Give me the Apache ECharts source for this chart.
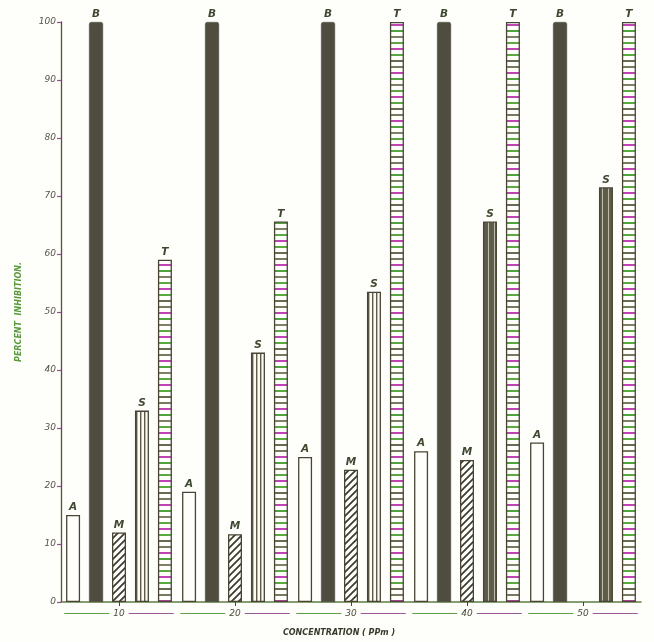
<!DOCTYPE html>
<html>
<head>
<meta charset="utf-8">
<script src="https://cdn.jsdelivr.net/npm/echarts@6/dist/echarts.min.js"></script>
<style>
html,body{margin:0;padding:0;background:#fefefb;}
#chart{width:654px;height:642px;}
</style>
</head>
<body>
<div id="chart"></div>
<script>
// ---- data ----
const categories = ['10', '20', '30', '40', '50'];
const seriesNames = ['A', 'B', 'M', 'S', 'T'];
const valuesA = [15, 19, 25, 26, 27.5];
const valuesB = [100, 100, 100, 100, 100];
const valuesM = [12, 11.7, 22.8, 24.5, null];
const valuesS = [33, 43, 53.5, 65.6, 71.5];
const valuesT = [59, 65.6, 100, 100, 100];
const yTicks = [0, 10, 20, 30, 40, 50, 60, 70, 80, 90, 100];

// ---- patterns ----
function makeCanvas(w, h, draw) {
  const c = document.createElement('canvas');
  c.width = w; c.height = h;
  draw(c.getContext('2d'));
  return c;
}
const hatchM = makeCanvas(7, 7, g => {
  g.fillStyle = '#fefefb'; g.fillRect(0, 0, 7, 7);
  g.strokeStyle = '#3b3a2e'; g.lineWidth = 1.7;
  g.beginPath();
  g.moveTo(-1, 8); g.lineTo(8, -1);
  g.moveTo(-1, 1); g.lineTo(1, -1);
  g.moveTo(6, 8); g.lineTo(8, 6);
  g.stroke();
});
const stripesS = makeCanvas(4, 4, g => {
  g.fillStyle = '#fbfbf4'; g.fillRect(0, 0, 4, 4);
  g.fillStyle = '#5c5a48'; g.fillRect(0, 0, 1.4, 4);
});
const stripesSDark = makeCanvas(6, 4, g => {
  g.fillStyle = '#5e5c4b'; g.fillRect(0, 0, 6, 4);
  g.fillStyle = '#bdbcaa'; g.fillRect(2, 0, 1, 4);
});
const ladderT = makeCanvas(4, 48, g => {
  g.fillStyle = '#fefefb'; g.fillRect(0, 0, 4, 48);
  const cols = ['#c043b4', '#5ba842', '#6b6a55', '#7d7862', '#c043b4', '#4fa23f', '#807f68', '#5ba842'];
  cols.forEach((c, i) => { g.fillStyle = c; g.fillRect(0, i * 6, 4, 2); });
});

const edge = '#4a4434';
const labelStyle = {
  show: true, position: 'top', distance: 2,
  formatter: p => p.seriesName,
  fontFamily: 'DejaVu Sans', fontStyle: 'italic', fontWeight: 'bold',
  fontSize: 10.5, color: '#3e4730'
};

function mk(name, data, itemStyle) {
  return {
    name, type: 'bar', data, barWidth: 14, barGap: '64%',
    itemStyle, label: labelStyle, silent: true
  };
}

const option = {
  backgroundColor: '#fefefb',
  animation: false,
  grid: { left: 61, right: 13, top: 22, bottom: 39 },
  xAxis: {
    type: 'category', data: categories,
    axisLine: { lineStyle: { color: '#5e7d44', width: 1.5 } },
    axisTick: { show: true, alignWithLabel: true, length: 4, lineStyle: { color: '#4a4434' } },
    axisLabel: {
      margin: 7,
      formatter: v => '{l|}{v|' + v + '}{r|}',
      rich: {
        l: { width: 45, height: 1, backgroundColor: '#5fa046', verticalAlign: 'middle' },
        r: { width: 45, height: 1, backgroundColor: '#9a5a96', verticalAlign: 'middle' },
        v: { fontSize: 9, fontStyle: 'italic', fontFamily: 'DejaVu Sans', color: '#4a4a3a', padding: [0, 4, 0, 4] }
      }
    },
    name: 'CONCENTRATION ( PPm )', nameLocation: 'middle', nameGap: 27,
    nameTextStyle: { fontSize: 8, fontStyle: 'italic', fontWeight: 'bold', fontFamily: 'DejaVu Sans', color: '#3a3a2c', padding: [0, 24, 0, 0] }
  },
  yAxis: {
    type: 'value', min: 0, max: 100, interval: 10,
    splitLine: { show: false },
    axisLine: { show: true, lineStyle: { color: '#5a5238', width: 1.3 } },
    axisTick: { show: true, length: 4, lineStyle: { color: '#9a4a94', width: 1.2 } },
    axisLabel: {
      margin: 5,
      formatter: v => yTicks.includes(v) ? String(v) : '',
      fontSize: 9, fontStyle: 'italic', fontFamily: 'DejaVu Sans', color: '#55554a'
    },
    name: 'PERCENT  INHIBITION.', nameLocation: 'middle', nameGap: 38, nameRotate: 90,
    nameTextStyle: { fontSize: 8, fontStyle: 'italic', fontWeight: 'bold', fontFamily: 'DejaVu Sans', color: '#5a9a3c' }
  },
  series: [
    mk('A', valuesA, { color: '#fefefb', borderColor: edge, borderWidth: 1.3 }),
    mk('B', valuesB, { color: '#4f4d40', borderColor: '#4a483a', borderWidth: 0.5, borderRadius: [2, 2, 0, 0] }),
    mk('M', valuesM, { color: { image: hatchM, repeat: 'repeat' }, borderColor: edge, borderWidth: 1.3 }),
    mk('S', valuesS.map((v, i) => i >= 3 ? { value: v, itemStyle: { color: { image: stripesSDark, repeat: 'repeat' } } } : v),
       { color: { image: stripesS, repeat: 'repeat' }, borderColor: edge, borderWidth: 1.3 }),
    mk('T', valuesT, { color: { image: ladderT, repeat: 'repeat' }, borderColor: edge, borderWidth: 1.3 })
  ]
};

const chart = echarts.init(document.getElementById('chart'), null, { renderer: 'canvas' });
chart.setOption(option);
</script>
</body>
</html>
